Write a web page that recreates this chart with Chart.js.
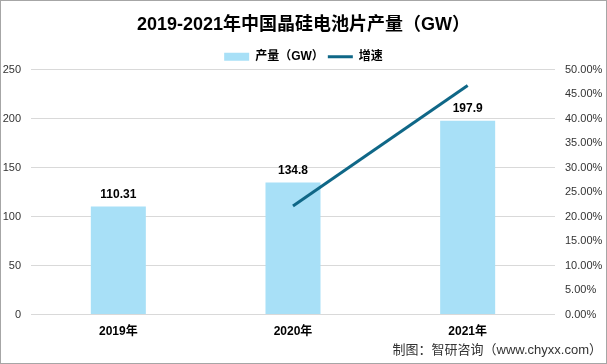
<!DOCTYPE html>
<html>
<head>
<meta charset="utf-8">
<script src="https://cdn.jsdelivr.net/npm/chart.js@4.4.0/dist/chart.umd.min.js"></script>
<style>
  html, body { margin: 0; padding: 0; background: #fff; }
  #wrap { width: 607px; height: 364px; box-sizing: border-box; border: 1px solid #a6a6a6; }
  canvas { display: block; }
</style>
</head>
<body>
<div id="wrap"><canvas id="grafico" width="605" height="362"></canvas></div>
<script>
// Dados do gráfico
const anos = ["2019年", "2020年", "2021年"];
const producao = [110.31, 134.8, 197.9];
const crescimento = [null, 22.2, 46.8];
const fonteDados = "制图：智研咨询（www.chyxx.com）";

const corBarra = "#A8E0F7";
const corLinha = "#0F6787";
const fonte = "'Liberation Sans', 'Noto Sans CJK SC', sans-serif";

// Rótulos de valor acima das barras + fonte no rodapé
const rotulosBarras = {
  id: "rotulosBarras",
  beforeLayout(chart) {
    // legenda um pouco mais baixa (menos espaço abaixo dela)
    const leg = chart.legend;
    if (leg && !leg._ajustada) {
      const fitOriginal = leg.fit;
      leg.fit = function () { fitOriginal.call(this); this.height -= 3; };
      leg._ajustada = true;
    }
  },
  afterDatasetsDraw(chart) {
    const ctx = chart.ctx;
    const meta = chart.getDatasetMeta(1);
    ctx.save();
    ctx.font = "bold 12px " + fonte;
    ctx.fillStyle = "#000";
    ctx.textAlign = "center";
    ctx.textBaseline = "bottom";
    meta.data.forEach((barra, i) => {
      ctx.fillText(String(producao[i]), barra.x, barra.y - 6);
    });

    // Rodapé
    ctx.font = "13px " + fonte;
    ctx.fillStyle = "#333";
    ctx.textAlign = "right";
    ctx.textBaseline = "middle";
    ctx.fillText(fonteDados, chart.width - 4, chart.height - 13);
    ctx.restore();
  }
};

new Chart(document.getElementById("grafico"), {
  data: {
    labels: anos,
    datasets: [
      {
        type: "line",
        label: "增速",
        data: crescimento,
        yAxisID: "y1",
        borderColor: corLinha,
        backgroundColor: corLinha,
        borderWidth: 3,
        pointRadius: 0,
        order: 0
      },
      {
        type: "bar",
        label: "产量（GW）",
        data: producao,
        yAxisID: "y",
        backgroundColor: corBarra,
        categoryPercentage: 0.315,
        barPercentage: 1,
        order: 1
      }
    ]
  },
  options: {
    responsive: false,
    animation: false,
    layout: { padding: { left: 0, right: 0, top: 0, bottom: 14 } },
    plugins: {
      title: {
        display: true,
        text: "2019-2021年中国晶硅电池片产量（GW）",
        font: { family: fonte, size: 18, weight: "bold", lineHeight: 1.1 },
        color: "#000",
        padding: { top: 14, bottom: 12 }
      },
      legend: {
        display: true,
        reverse: true,
        labels: {
          usePointStyle: true,
          pointStyleWidth: 25,
          boxHeight: 8,
          padding: 4,
          color: "#000",
          font: { family: fonte, size: 12, weight: "bold" },
          generateLabels(chart) {
            const itens = Chart.defaults.plugins.legend.labels.generateLabels(chart);
            return itens.map(item => {
              const ds = chart.data.datasets[item.datasetIndex];
              item.pointStyle = ds.type === "line" ? "line" : "rect";
              if (ds.type === "line") { item.strokeStyle = corLinha; item.lineWidth = 3; }
              else { item.lineWidth = 0; }
              return item;
            });
          }
        }
      },
      tooltip: { enabled: false }
    },
    scales: {
      x: {
        grid: { display: false, drawTicks: false },
        border: { display: false },
        ticks: { color: "#000", font: { family: fonte, size: 12, weight: "bold" }, padding: 10 }
      },
      y: {
        position: "left",
        min: 0,
        max: 250,
        ticks: { stepSize: 50, color: "#333", font: { family: fonte, size: 11 }, padding: 10 },
        grid: { color: "#D9D9D9", drawTicks: false },
        border: { display: false },
        afterFit(axis) { axis.width = 30; }
      },
      y1: {
        position: "right",
        min: 0,
        max: 50,
        ticks: {
          stepSize: 5,
          color: "#333",
          font: { family: fonte, size: 11 },
          padding: 10,
          callback: v => v.toFixed(2) + "%"
        },
        grid: { display: false, drawTicks: false },
        border: { display: false },
        afterFit(axis) { axis.width = 51; }
      }
    }
  },
  plugins: [rotulosBarras]
});
</script>
</body>
</html>
